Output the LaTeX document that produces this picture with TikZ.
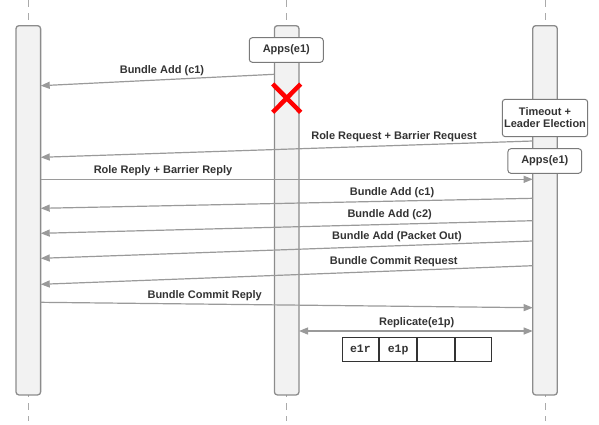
\documentclass[tikz,border=0pt]{standalone}
\usepackage{fontspec}
\setmainfont{Liberation Sans}
\newfontfamily\tabfont[BoldFont={Liberation Mono Bold}]{Liberation Mono}
\usetikzlibrary{arrows.meta}
\definecolor{txt}{HTML}{333333}
\definecolor{barfill}{HTML}{F2F2F2}
\definecolor{barline}{HTML}{8C8C8C}
\definecolor{boxline}{HTML}{7A7A7A}
\definecolor{arrowc}{HTML}{9A9A9A}
\definecolor{lifec}{HTML}{AAAAAA}
\begin{document}
\begin{tikzpicture}[x=1pt,y=-1pt,
  bar/.style={draw=barline, fill=barfill, line width=1.3pt, rounded corners=3pt, minimum width=24.6pt, minimum height=369.3pt, inner sep=0pt},
  box/.style={draw=boxline, fill=white, rounded corners=3pt, line width=1pt, font=\bfseries\fontsize{11}{13}\selectfont, text=txt, align=center, inner sep=0pt},
  msg/.style={draw=arrowc, line width=1.2pt, -{Triangle[length=9pt,width=7pt]}},
  dmsg/.style={draw=arrowc, line width=1.2pt, {Triangle[length=9pt,width=7pt]}-{Triangle[length=9pt,width=7pt]}},
  lbl/.style={font=\bfseries\fontsize{11}{13}\selectfont, text=txt, inner sep=0pt, yshift=-1.5pt},
  life/.style={draw=lifec, line width=1pt, dash pattern=on 7pt off 6pt},
  cell/.style={draw=txt, line width=0.9pt, minimum width=36.8pt, minimum height=24.4pt, inner sep=0pt, text height=7pt, text depth=2pt, font=\tabfont\bfseries\fontsize{11.5}{13}\selectfont, text=txt}]
\useasboundingbox (0,0) rectangle (599,424);
% lifelines
\coordinate (Lt) at (28.3,0); \coordinate (Lb) at (28.3,421);
\coordinate (Mt) at (286.7,0); \coordinate (Mb) at (286.7,421);
\coordinate (Rt) at (545,0); \coordinate (Rb) at (545,421);
\draw[life] (Lt) -- (Lb);
\draw[life] (Mt) -- (Mb);
\draw[life] (Rt) -- (Rb);
% bars
\node[bar] (L) at (28.3,210.3) {};
\node[bar] (M) at (286.7,210.3) {};
\node[bar] (R) at (545,210.3) {};
% message end points
\coordinate (a1s) at (274.3,74.3);  \coordinate (a1e) at (40.7,85.7);
\coordinate (a2s) at (532.7,141);   \coordinate (a2e) at (40.7,157.3);
\coordinate (a3s) at (40.7,179.3);  \coordinate (a3e) at (532.7,179.3);
\coordinate (a4s) at (532.7,198.3); \coordinate (a4e) at (40.7,208.3);
\coordinate (a5s) at (532.7,220.7); \coordinate (a5e) at (40.7,233.3);
\coordinate (a6s) at (532.7,241);   \coordinate (a6e) at (40.7,258.3);
\coordinate (a7s) at (532.7,265.7); \coordinate (a7e) at (40.7,284.3);
\coordinate (a8s) at (40.7,302.3);  \coordinate (a8e) at (532.7,307.7);
\coordinate (a9s) at (299,331);     \coordinate (a9e) at (532.7,331);
\draw[msg] (a1s) -- (a1e);
\draw[msg] (a2s) -- (a2e);
\draw[msg] (a3s) -- (a3e);
\draw[msg] (a4s) -- (a4e);
\draw[msg] (a5s) -- (a5e);
\draw[msg] (a6s) -- (a6e);
\draw[msg] (a7s) -- (a7e);
\draw[msg] (a8s) -- (a8e);
\draw[dmsg] (a9s) -- (a9e);
% labels
\node[lbl] (l1) at (162,69) {Bundle Add (c1)};
\node[lbl] (l2) at (394,135) {Role Request + Barrier Request};
\node[lbl] (l3) at (163,169) {Role Reply + Barrier Reply};
\node[lbl] (l4) at (392,190.7) {Bundle Add (c1)};
\node[lbl] (l5) at (389.7,213.3) {Bundle Add (c2)};
\node[lbl] (l6) at (397,235) {Bundle Add (Packet Out)};
\node[lbl] (l7) at (393.7,260) {Bundle Commit Request};
\node[lbl] (l8) at (204.7,294) {Bundle Commit Reply};
\node[lbl] (l9) at (416.7,321) {Replicate(e1p)};
% boxes
\node[box, minimum width=74pt, minimum height=24.6pt] (apps1) at (286.3,50) {Apps(e1)};
\node[box, minimum width=85.4pt, minimum height=37.4pt] (timeout) at (545,118) {Timeout +\\[-1pt]Leader Election};
\node[box, minimum width=73.7pt, minimum height=24.6pt] (apps2) at (544.8,161) {Apps(e1)};
% red cross
\draw[red, line width=4.5pt] (272.7,84) -- (300.7,112.3);
\draw[red, line width=4.5pt] (272.7,112.3) -- (300.7,84);
% table
\node[cell] (c1) at (360.4,349.5) {e1r};
\node[cell, anchor=west] (c2) at (c1.east) {e1p};
\node[cell, anchor=west] (c3) at (c2.east) {};
\node[cell, anchor=west] (c4) at (c3.east) {};
\end{tikzpicture}
\end{document}
